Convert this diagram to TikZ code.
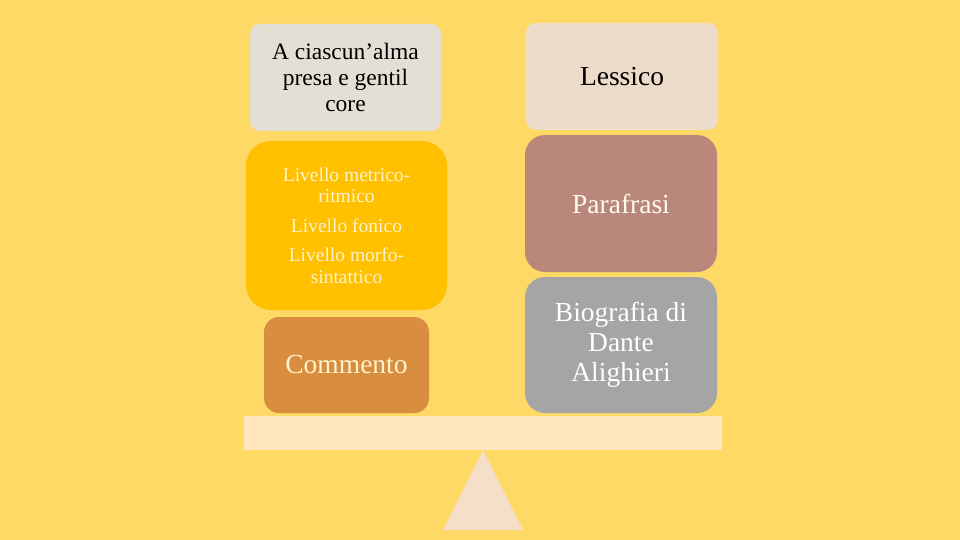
\documentclass[tikz,border=0pt]{standalone}
\usepackage{fontspec}
\setmainfont{Liberation Serif}
\usepackage{xcolor}
\usepackage{tikz}
\usetikzlibrary{positioning}

\definecolor{sfondo}{HTML}{FFD966}
\definecolor{grigiochiaro}{HTML}{E3DFD4}
\definecolor{giallo}{HTML}{FFC000}
\definecolor{arancio}{HTML}{D98D3E}
\definecolor{rosato}{HTML}{EEDCCB}
\definecolor{marrone}{HTML}{B9887A}
\definecolor{grigio}{HTML}{A5A5A5}
\definecolor{asse}{HTML}{FFE6BF}
\definecolor{fulcro}{HTML}{F5DFC8}
\definecolor{crema}{HTML}{FFF2CC}

\begin{document}
\begin{tikzpicture}[x=1pt,y=-1pt,
    blocco/.style={rectangle,inner sep=4pt,align=center,minimum width=192pt},
    grande/.style={font=\fontsize{27.5}{30}\selectfont},
    medio/.style={font=\fontsize{23.5}{26}\selectfont},
    piccolo/.style={font=\fontsize{19.5}{21.5}\selectfont}]
\fill[sfondo] (0,0) rectangle (960,540);

% colonna di sinistra
\node[blocco,medio,fill=grigiochiaro,rounded corners=10pt,minimum width=191pt,minimum height=107pt] (verso) at (345.5,77.5)
    {A ciascun’alma\\presa e gentil\\core};
\node[blocco,piccolo,fill=giallo,text=crema,rounded corners=25pt,minimum width=201pt,minimum height=169pt] (livelli) at (346.5,225.5)
    {Livello metrico-\\ritmico\\[8pt]Livello fonico\\[8pt]Livello morfo-\\sintattico};
\node[blocco,grande,fill=arancio,text=crema,rounded corners=15pt,minimum width=165pt,minimum height=96pt] (commento) at (346.5,365)
    {Commento};

% colonna di destra
\node[blocco,grande,fill=rosato,rounded corners=10pt,minimum height=107pt] (lessico) at (622,76.5) {Lessico};
\node[blocco,grande,fill=marrone,text=crema!40,rounded corners=20pt,minimum height=137pt] (parafrasi) at (621,203.5) {Parafrasi};
\node[blocco,grande,fill=grigio,text=white,rounded corners=20pt,minimum height=136pt] (biografia) at (621,345)
    {Biografia di\\Dante\\Alighieri};

% bilancia
\node[rectangle,fill=asse,minimum width=478pt,minimum height=34pt,inner sep=0pt] (asse) at (483,433) {};
\coordinate (apice) at (483,450);
\fill[fulcro] (apice) -- (523,530) -- (443,530) -- cycle;
\end{tikzpicture}
\end{document}
